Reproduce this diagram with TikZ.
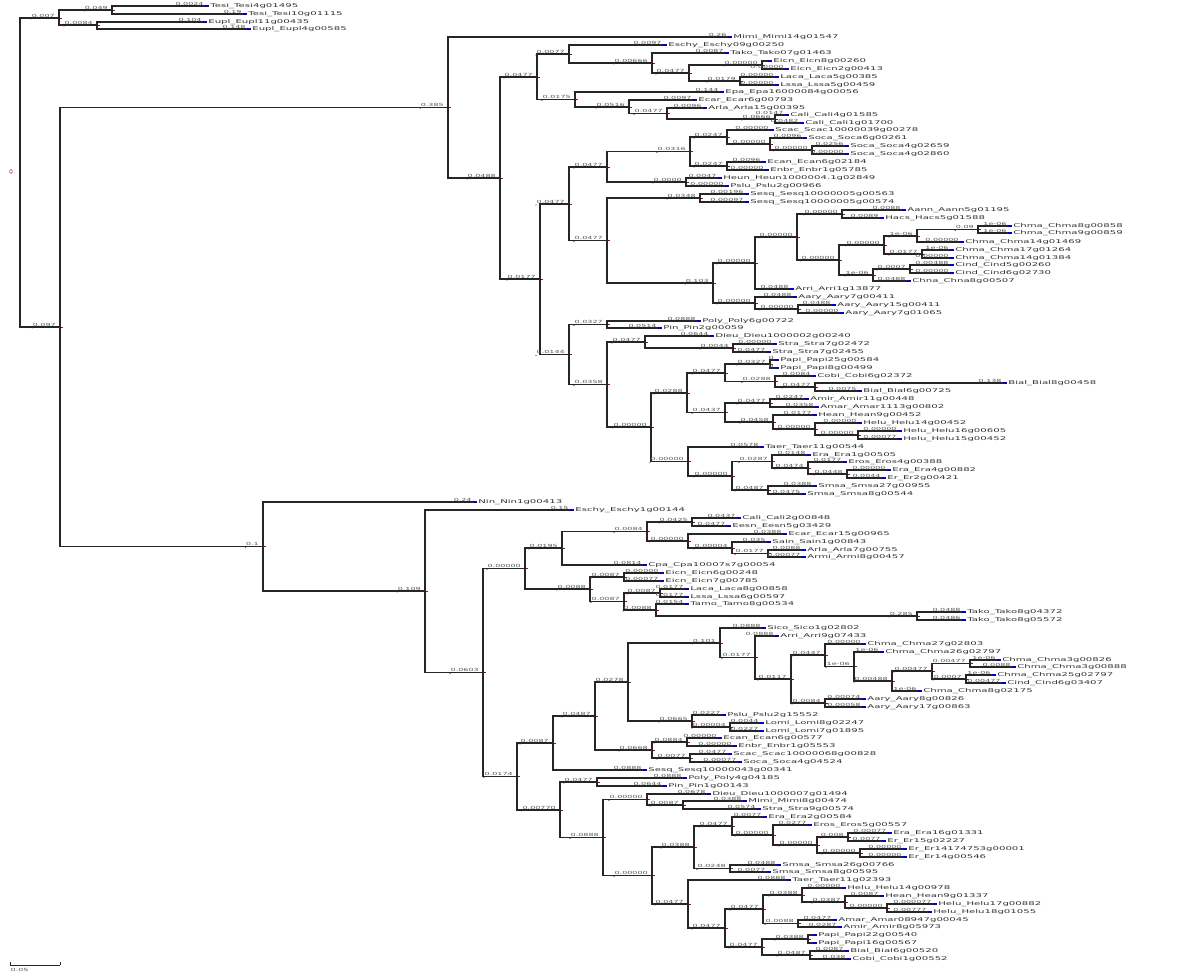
\documentclass[tikz,border=0pt]{standalone}
\usepackage{fontspec}
\usepackage{tikz}
\usetikzlibrary{calc}

\newfontfamily\leaffont[FakeStretch=1.95]{DejaVu Sans}
\newfontfamily\lenfont[FakeStretch=1.9]{DejaVu Sans}

\tikzset{
  branch/.style={draw=black!85, line width=0.28mm},
  blen/.style={font=\lenfont\fontsize{3}{3}\selectfont, text=black!65, inner sep=0.3pt, anchor=south east},
  leaftxt/.style={font=\leaffont\fontsize{3.7}{3.7}\selectfont, text=black!80, inner sep=0.4pt, anchor=west},
  nodemark/.style={draw=red!75!black, line width=0.25pt},
  tipmark/.style={draw=blue!80!black, line width=0.28mm}
}

% internal node: parent, name, x, y, branch length
\newcommand{\inode}[5]{%
  \coordinate (#2) at (#3,#4);
  \draw[branch] (#1) |- (#2);
  \node[blen] (#2-l) at ([xshift=-2.5pt]#2) {#5};
  \fill[red!75!black] ([yshift=-0.7pt]#2-l.south west) circle (0.4pt);
  \draw[nodemark] (#2) -- ++(3,0);
}
% leaf: parent, name, x, y, branch length, label
\newcommand{\leafn}[6]{%
  \coordinate (#2) at (#3,#4);
  \draw[branch] (#1) |- (#2);
  \node[blen] (#2-l) at ([xshift=-0.5pt]#2) {#5};
  \draw[tipmark] (#2) -- ++(4,0);
  \path (#2) ++(4.5,0) node[leaftxt] (#2-t) {#6};
}

\begin{document}
\begin{tikzpicture}[x=0.25mm, y=-0.25mm]
    \fill[white] (0,0) rectangle (1200,976);
    \useasboundingbox (0,0) rectangle (1200,976);

    % root
    \coordinate (root) at (20,172);
    \node[red!75!black, font=\lenfont\fontsize{3}{3}\selectfont, rotate=90] (rootmark) at (11,172) {0};

    % outgroup
    \inode{root}{og}{59}{18}{0.007}
    \inode{og}{tesi}{112}{10}{0.049}
    \leafn{tesi}{tesi1}{205}{6}{0.0024}{Tesi\_Tesi4g01495}
    \leafn{tesi}{tesi2}{243}{14}{0.19}{Tesi\_Tesi10g01115}
    \inode{og}{eupl}{97}{25}{0.0084}
    \leafn{eupl}{eupl1}{203}{22}{0.104}{Eupl\_Eupl11g00435}
    \leafn{eupl}{eupl2}{247}{29}{0.148}{Eupl\_Eupl4g00585}

    \inode{root}{in}{60}{327}{0.097}

    % upper clade
    \inode{in}{c1}{448}{107.5}{0.385}
    \leafn{c1}{a1}{728}{37}{0.26}{Mimi\_Mimi14g01547}
    \inode{c1}{c2}{500}{178}{0.0488}
    \inode{c2}{c3}{537}{77}{0.0477}
    \inode{c3}{c4}{569}{54}{0.0077}
    \leafn{c4}{a2}{663}{45}{0.0097}{Eschy\_Eschy09g00250}
    \inode{c4}{c5}{652}{63}{0.00666}
    \leafn{c5}{a3}{725}{53}{0.0087}{Tako\_Tako07g01463}
    \inode{c5}{c6}{689}{73}{0.0477}
    \inode{c6}{c7}{762}{65}{0.00000}
    \leafn{c7}{a4}{768}{61}{}{Eicn\_Eicn8g00260}
    \leafn{c7}{a5}{785}{69}{0.00000}{Eicn\_Eicn2g00413}
    \inode{c6}{c8}{740}{81}{0.0179}
    \leafn{c8}{a6}{775}{77}{0.00000}{Laca\_Laca5g00385}
    \leafn{c8}{a7}{775}{85}{0.00000}{Lssa\_Lssa5g00459}
    \inode{c3}{c9}{575}{99.5}{0.0175}
    \leafn{c9}{a8}{720}{92}{0.144}{Epa\_Epa16000084g00056}
    \inode{c9}{c10}{629}{107}{0.0516}
    \leafn{c10}{a9}{693}{100}{0.0097}{Ecar\_Ecar6g00793}
    \inode{c10}{c11}{667}{113.5}{0.0477}
    \leafn{c11}{a10}{703}{108}{0.0096}{Arla\_Arla15g00395}
    \inode{c11}{c12}{775}{119}{0.0666}
    \leafn{c12}{a11}{785}{115}{0.0147}{Cali\_Cali4g01585}
    \leafn{c12}{a12}{800}{123}{0.0482}{Cali\_Cali1g01700}

    \inode{c2}{c13}{540}{279}{0.0177}
    \inode{c13}{c14}{569}{204}{0.0477}
    \inode{c14}{c15}{607}{167}{0.0477}
    \inode{c15}{c16}{690}{151.5}{0.0316}
    \inode{c16}{c17}{727}{137}{0.0247}
    \leafn{c17}{a13}{770}{130}{0.00000}{Scac\_Scac10000039g00278}
    \inode{c17}{c18}{770}{144}{0.00000}
    \leafn{c18}{a14}{803}{138}{0.0096}{Soca\_Soca6g00261}
    \inode{c18}{c19}{812}{150}{0.00000}
    \leafn{c19}{a15}{845}{146}{0.0256}{Soca\_Soca4g02659}
    \leafn{c19}{a16}{845}{154}{0.00000}{Soca\_Soca4g02860}
    \inode{c16}{c20}{727}{166}{0.0247}
    \leafn{c20}{a17}{762}{162}{0.0096}{Ecan\_Ecan6g02184}
    \leafn{c20}{a18}{765}{170}{0.00000}{Enbr\_Enbr1g05785}
    \inode{c15}{c21}{686}{182}{0.0000}
    \leafn{c21}{a19}{718}{178}{0.0047}{Heun\_Heun1000004.1g02849}
    \leafn{c21}{a20}{725}{186}{0.00000}{Pslu\_Pslu2g00966}
    \inode{c14}{c22}{607}{240.5}{0.0477}
    \inode{c22}{c23}{700}{198}{0.0348}
    \leafn{c23}{a21}{745}{194}{0.00196}{Sesq\_Sesq10000005g00563}
    \leafn{c23}{a22}{745}{202}{0.00097}{Sesq\_Sesq10000005g00574}
    \inode{c22}{c24}{713}{283}{0.103}
    \inode{c24}{c25}{755}{263}{0.00000}
    \inode{c25}{c26}{797}{237}{0.00000}
    \inode{c26}{c27}{842}{214}{0.00000}
    \leafn{c27}{a23}{902}{210}{0.0088}{Aann\_Aann5g01195}
    \leafn{c27}{a24}{880}{218}{0.0089}{Hacs\_Hacs5g01588}
    \inode{c26}{c28}{839}{260}{0.00000}
    \inode{c28}{c29}{884}{245}{0.00000}
    \inode{c29}{c30}{917}{236}{1e-06}
    \inode{c30}{c32}{978}{229.5}{0.09}
    \leafn{c32}{a25}{1008}{226}{1e-06}{Chma\_Chma8g00858}
    \leafn{c32}{a26}{1008}{233}{1e-06}{Chma\_Chma9g00859}
    \leafn{c30}{a27}{960}{242}{0.00000}{Chma\_Chma14g01469}
    \inode{c29}{c31}{922}{254}{0.0177}
    \leafn{c31}{a28}{950}{250}{1e-06}{Chma\_Chma17g01264}
    \leafn{c31}{a29}{950}{258}{0.00000}{Chma\_Chma14g01384}
    \inode{c28}{c33}{873}{275}{1e-06}
    \inode{c33}{c34}{910}{269}{0.0007}
    \leafn{c34}{a30}{950}{265}{0.00488}{Cind\_Cind5g00260}
    \leafn{c34}{a31}{950}{273}{0.00000}{Cind\_Cind6g02730}
    \leafn{c33}{a32}{907}{281}{0.0488}{Chna\_Chna8g00507}
    \leafn{c25}{a33}{790}{289}{0.0488}{Arri\_Arri1g13877}
    \inode{c24}{c35}{755}{303}{0.00000}
    \leafn{c35}{a34}{793}{297}{0.0488}{Aary\_Aary7g00411}
    \inode{c35}{c36}{798}{309}{0.00000}
    \leafn{c36}{a35}{832}{305}{0.0488}{Aary\_Aary15g00411}
    \leafn{c36}{a36}{840}{313}{0.00000}{Aary\_Aary7g01065}

    \inode{c13}{c37}{569}{354.5}{0.0144}
    \inode{c37}{c38}{607}{324.5}{0.0327}
    \leafn{c38}{a37}{697}{321}{0.0888}{Poly\_Poly6g00722}
    \leafn{c38}{a38}{658}{328}{0.0514}{Pin\_Pin2g00059}
    \inode{c37}{c39}{607}{384.5}{0.0358}
    \inode{c39}{c40}{645}{342}{0.0477}
    \leafn{c40}{a39}{710}{336}{0.0644}{Dieu\_Dieu1000002g00240}
    \inode{c40}{c41}{733}{348}{0.0044}
    \leafn{c41}{a40}{773}{344}{0.00000}{Stra\_Stra7g02472}
    \leafn{c41}{a41}{767}{352}{0.0477}{Stra\_Stra7g02455}
    \inode{c39}{c42}{651}{427}{0.00000}
    \inode{c42}{c43}{687}{393}{0.0288}
    \inode{c43}{c44}{725}{373}{0.0477}
    \inode{c44}{c45}{770}{364}{0.0327}
    \leafn{c45}{a42}{775}{360}{0}{Papi\_Papi25g00584}
    \leafn{c45}{a43}{775}{368}{0}{Papi\_Papi8g00499}
    \inode{c44}{c46}{775}{381.5}{0.0288}
    \leafn{c46}{a44}{812}{376}{0.0084}{Cobi\_Cobi6g02372}
    \inode{c46}{c47}{815}{387}{0.0477}
    \leafn{c47}{a45}{1003}{383}{0.138}{Bial\_Bial8g00458}
    \leafn{c47}{a46}{858}{391}{0.0075}{Bial\_Bial6g00725}
    \inode{c43}{c48}{725}{412.5}{0.0437}
    \inode{c48}{c49}{770}{403}{0.0477}
    \leafn{c49}{a47}{805}{399}{0.0247}{Amir\_Amir11g00448}
    \leafn{c49}{a48}{815}{407}{0.0358}{Amar\_Amar1113g00802}
    \inode{c48}{c50}{773}{422}{0.0458}
    \leafn{c50}{a49}{813}{415}{0.0177}{Hean\_Hean9g00452}
    \inode{c50}{c51}{815}{429}{0.00000}
    \leafn{c51}{a50}{858}{423}{0.00000}{Helu\_Helu14g00452}
    \inode{c51}{c52}{858}{435}{0.00000}
    \leafn{c52}{a51}{898}{431}{0.00000}{Helu\_Helu16g00605}
    \leafn{c52}{a52}{898}{439}{0.00077}{Helu\_Helu15g00452}
    \inode{c42}{c53}{688}{461.5}{0.00000}
    \leafn{c53}{a53}{760}{447}{0.0578}{Taer\_Taer11g00544}
    \inode{c53}{c54}{732}{476}{0.00000}
    \inode{c54}{c55}{772}{461.5}{0.0287}
    \leafn{c55}{a54}{807}{455}{0.0148}{Era\_Era1g00505}
    \inode{c55}{c56}{808}{468}{0.0474}
    \leafn{c56}{a55}{843}{462}{0.0177}{Eros\_Eros4g00388}
    \inode{c56}{c57}{847}{474}{0.0448}
    \leafn{c57}{a56}{887}{470}{0.00000}{Era\_Era4g00882}
    \leafn{c57}{a57}{882}{478}{0.0044}{Er\_Er2g00421}
    \inode{c54}{c58}{768}{490}{0.0487}
    \leafn{c58}{a58}{813}{486}{0.0388}{Smsa\_Smsa27g00955}
    \leafn{c58}{a59}{802}{494}{0.0475}{Smsa\_Smsa8g00544}

    % lower clade
    \inode{in}{d1}{263}{546.5}{0.1}
    \leafn{d1}{b1}{473}{502}{0.24}{Nin\_Nin1g00413}
    \inode{d1}{d2}{425}{591}{0.109}
    \leafn{d2}{b2}{570}{510}{0.15}{Eschy\_Eschy1g00144}
    \inode{d2}{d3}{483}{672.5}{0.0603}
    \inode{d3}{d4}{525}{568.5}{0.00000}
    \inode{d4}{d5}{562}{548}{0.0195}
    \inode{d5}{d6}{647}{531.5}{0.0084}
    \inode{d6}{d7}{692}{522}{0.0425}
    \leafn{d7}{b3}{737}{518}{0.0437}{Cali\_Cali2g00848}
    \leafn{d7}{b4}{727}{526}{0.0477}{Eesn\_Eesn5g03429}
    \inode{d6}{d8}{688}{541}{0.00000}
    \leafn{d8}{b5}{783}{534}{0.0388}{Ecar\_Ecar15g00965}
    \inode{d8}{d9}{732}{548}{0.00004}
    \leafn{d9}{b6}{767}{542}{0.035}{Sain\_Sain1g00843}
    \inode{d9}{d10}{768}{553.5}{0.0177}
    \leafn{d10}{b7}{802}{550}{0.0088}{Arla\_Arla7g00755}
    \leafn{d10}{b8}{802}{557}{0.00077}{Armi\_Armi8g00457}
    \leafn{d5}{b9}{643}{565}{0.0814}{Cpa\_Cpa10007s7g00054}
    \inode{d4}{d11}{590}{589}{0.0088}
    \inode{d11}{d12}{624}{577}{0.0087}
    \leafn{d12}{b10}{660}{573}{0.00000}{Eicn\_Eicn6g00248}
    \leafn{d12}{b11}{660}{581}{0.00077}{Eicn\_Eicn7g00785}
    \inode{d11}{d13}{624}{601.5}{0.0087}
    \inode{d13}{d14}{660}{593}{0.0087}
    \leafn{d14}{b12}{685}{589}{0.0177}{Laca\_Laca8g00858}
    \leafn{d14}{b13}{685}{597}{0.0177}{Lssa\_Lssa6g00597}
    \inode{d13}{d15}{656}{610}{0.0088}
    \leafn{d15}{b14}{685}{604}{0.0154}{Tamo\_Tamo8g00534}
    \inode{d15}{d16}{917}{616}{0.285}
    \leafn{d16}{b15}{962}{612}{0.0488}{Tako\_Tako8g04372}
    \leafn{d16}{b16}{962}{620}{0.0486}{Tako\_Tako8g05572}

    \inode{d3}{d17}{517}{776.5}{0.0174}
    \inode{d17}{d18}{553}{743}{0.0087}
    \inode{d18}{d19}{595}{716}{0.0487}
    \inode{d19}{d20}{628}{682}{0.0278}
    \inode{d20}{d21}{720}{643}{0.101}
    \leafn{d21}{b17}{762}{628}{0.0888}{Sico\_Sico1g02802}
    \inode{d21}{d22}{755}{657.5}{0.0177}
    \leafn{d22}{b18}{775}{636}{0.0888}{Arri\_Arri9g07433}
    \inode{d22}{d23}{791}{679}{0.0117}
    \inode{d23}{d24}{825}{655}{0.0447}
    \leafn{d24}{b19}{862}{644}{0.00000}{Chma\_Chma27g02803}
    \inode{d24}{d25}{854}{666.5}{1e-06}
    \leafn{d25}{b20}{880}{652}{1e-06}{Chma\_Chma26g02797}
    \inode{d25}{d26}{892}{681}{0.00488}
    \inode{d26}{d27}{932}{671}{0.00477}
    \inode{d27}{d28}{970}{663.5}{0.00477}
    \leafn{d28}{b21}{997}{660}{1e-06}{Chma\_Chma3g00826}
    \leafn{d28}{b22}{1012}{667}{0.0088}{Chma\_Chma3g00888}
    \inode{d27}{d29}{966}{679}{0.0007}
    \leafn{d29}{b23}{992}{675}{1e-06}{Chma\_Chma25g02797}
    \leafn{d29}{b24}{1002}{683}{0.00477}{Cind\_Cind6g03407}
    \leafn{d26}{b25}{918}{691}{1e-06}{Chma\_Chma8g02175}
    \inode{d23}{d30}{825}{703}{0.0084}
    \leafn{d30}{b26}{862}{699}{0.00074}{Aary\_Aary8g00826}
    \leafn{d30}{b27}{862}{707}{0.00058}{Aary\_Aary17g00863}
    \inode{d20}{d31}{692}{721}{0.0665}
    \leafn{d31}{b28}{722}{715}{0.0227}{Pslu\_Pslu2g15552}
    \inode{d31}{d32}{730}{727}{0.00004}
    \leafn{d32}{b29}{760}{723}{0.0044}{Lomi\_Lomi8g02247}
    \leafn{d32}{b30}{760}{731}{0.0227}{Lomi\_Lomi7g01895}
    \inode{d19}{d33}{652}{750}{0.0668}
    \inode{d33}{d34}{687}{742}{0.0884}
    \leafn{d34}{b31}{718}{738}{0.00000}{Ecan\_Ecan6g00577}
    \leafn{d34}{b32}{733}{746}{0.00000}{Enbr\_Enbr1g05553}
    \inode{d33}{d35}{690}{758}{0.0077}
    \leafn{d35}{b33}{728}{754}{0.0477}{Scac\_Scac10000068g00828}
    \leafn{d35}{b34}{738}{762}{0.00077}{Soca\_Soca4g04524}
    \leafn{d18}{b35}{643}{770}{0.0888}{Sesq\_Sesq10000043g00341}
    \inode{d17}{d36}{560}{810}{0.00770}
    \inode{d36}{d37}{597}{782}{0.0477}
    \leafn{d37}{b36}{683}{778}{0.0888}{Poly\_Poly4g04185}
    \leafn{d37}{b37}{663}{786}{0.0644}{Pin\_Pin1g00143}
    \inode{d36}{d38}{603}{837.5}{0.0888}
    \inode{d38}{d39}{647}{799.5}{0.00000}
    \leafn{d39}{b38}{707}{794}{0.0678}{Dieu\_Dieu1000007g01494}
    \inode{d39}{d40}{683}{805}{0.0087}
    \leafn{d40}{b39}{743}{801}{0.0388}{Mimi\_Mimi8g00474}
    \leafn{d40}{b40}{757}{809}{0.0574}{Stra\_Stra9g00574}
    \inode{d38}{d41}{652}{875.5}{0.00000}
    \inode{d41}{d42}{694}{847}{0.0388}
    \inode{d42}{d43}{732}{826}{0.0477}
    \leafn{d43}{b41}{763}{817}{0.0077}{Era\_Era2g00584}
    \inode{d43}{d44}{773}{835}{0.00000}
    \leafn{d44}{b42}{808}{825}{0.0277}{Eros\_Eros5g00557}
    \inode{d44}{d45}{817}{845}{0.00000}
    \inode{d45}{d46}{848}{837}{0.008}
    \leafn{d46}{b43}{888}{833}{0.00077}{Era\_Era16g01331}
    \leafn{d46}{b44}{882}{841}{0.0077}{Er\_Er15g02227}
    \inode{d45}{d47}{860}{853}{0.00000}
    \leafn{d47}{b45}{903}{849}{0.00000}{Er\_Er14174753g00001}
    \leafn{d47}{b46}{903}{857}{0.00000}{Er\_Er14g00546}
    \inode{d42}{d48}{730}{868.5}{0.0248}
    \leafn{d48}{b47}{777}{865}{0.0488}{Smsa\_Smsa26g00766}
    \leafn{d48}{b48}{767}{872}{0.0077}{Smsa\_Smsa8g00595}
    \inode{d41}{d49}{688}{904}{0.0477}
    \leafn{d49}{b49}{787}{880}{0.0888}{Taer\_Taer11g02393}
    \inode{d49}{d50}{725}{928}{0.0477}
    \inode{d50}{d51}{763}{909}{0.0477}
    \inode{d51}{d52}{802}{895}{0.0388}
    \leafn{d52}{b50}{842}{888}{0.00000}{Helu\_Helu14g00978}
    \inode{d52}{d53}{845}{902}{0.0387}
    \leafn{d53}{b51}{880}{896}{0.0087}{Hean\_Hean9g01337}
    \inode{d53}{d54}{887}{908}{0.00000}
    \leafn{d54}{b52}{933}{904}{0.000077}{Helu\_Helu17g00882}
    \leafn{d54}{b53}{928}{912}{0.00777}{Helu\_Helu18g01055}
    \inode{d51}{d55}{798}{923.5}{0.0088}
    \leafn{d55}{b54}{833}{920}{0.0477}{Amar\_Amar08947g00045}
    \leafn{d55}{b55}{838}{927}{0.0287}{Amir\_Amir8g05973}
    \inode{d50}{d56}{762}{947}{0.0477}
    \inode{d56}{d57}{808}{939}{0.0388}
    \leafn{d57}{b56}{813}{935}{}{Papi\_Papi22g00540}
    \leafn{d57}{b57}{813}{943}{}{Papi\_Papi16g00567}
    \inode{d56}{d58}{810}{955}{0.0487}
    \leafn{d58}{b58}{845}{951}{0.0087}{Bial\_Bial6g00520}
    \leafn{d58}{b59}{847}{959}{0.038}{Cobi\_Cobi1g00552}

    % scale bar
    \coordinate (sb1) at (10,965);
    \coordinate (sb2) at (60,965);
    \draw[black!85, line width=0.2mm] (sb1) -- (sb2);
    \draw[black!85, line width=0.2mm] (sb1) -- ++(0,-3) (sb2) -- ++(0,-3);
    \node[blen, anchor=north west] (sbtext) at (10,968) {0.05};
\end{tikzpicture}
\end{document}
